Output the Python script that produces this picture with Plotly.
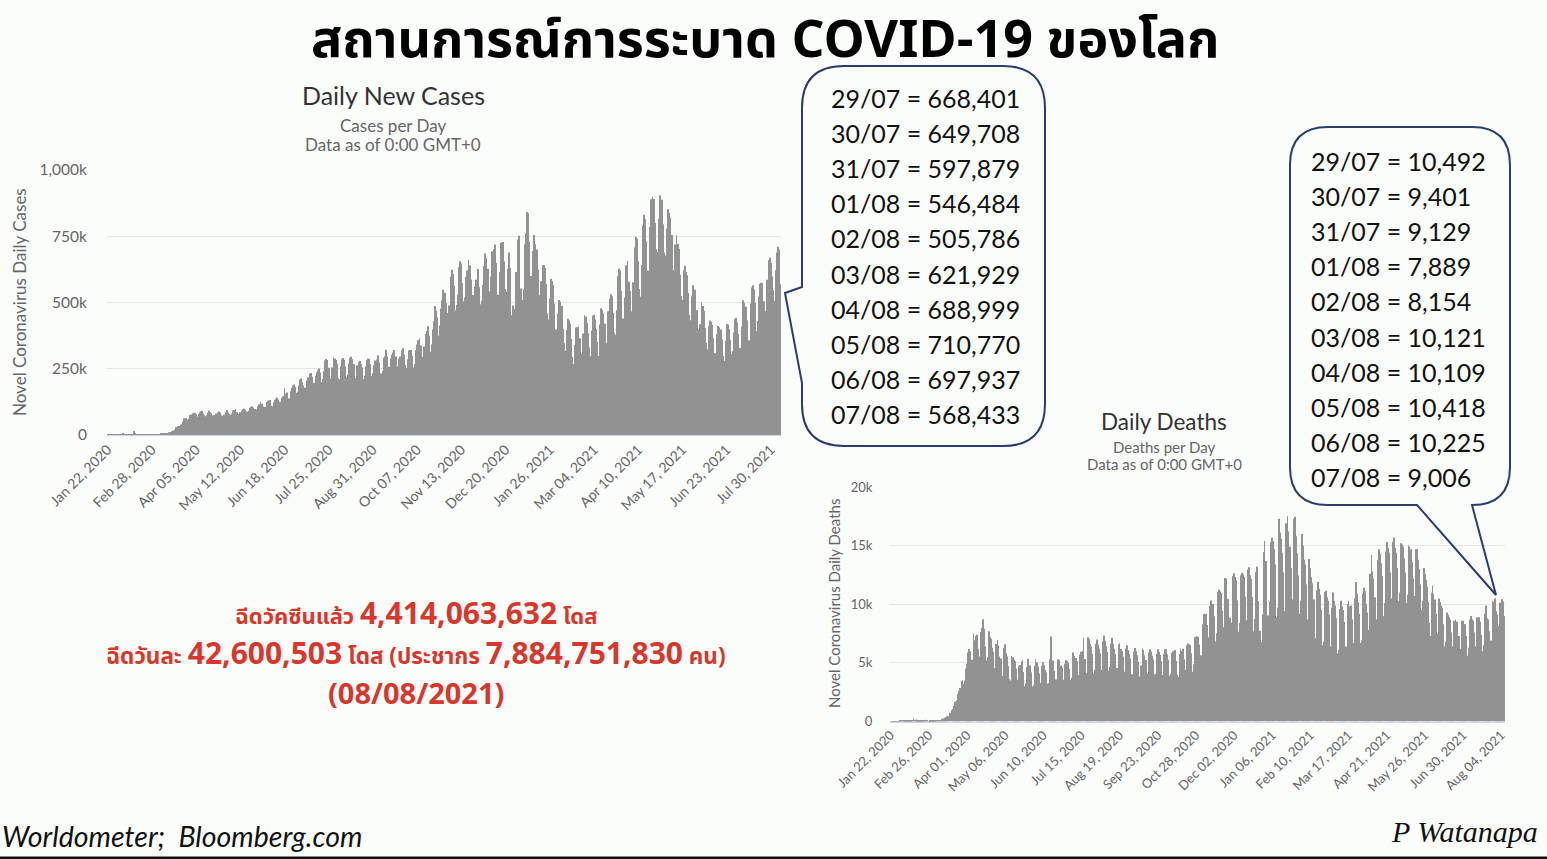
import pandas as pd
import plotly.graph_objects as go

W, H = 1547, 859

START_DATE = "2020-01-22"

# Daily new cases (thousands), one row per week starting Wednesday Jan 22, 2020
cases_k = [
    0.6, 0.3, 0.3, 0.7, 0.8, 1.5, 1.8,
    2.1, 2.6, 2.0, 2.1, 2.6, 3.2, 3.9,
    3.7, 3.2, 3.4, 2.7, 3.0, 2.6, 2.0,
    2.0, 15.1, 6.4, 2.1, 2.6, 2.1, 1.9,
    0.6, 0.9, 1.0, 0.6, 0.9, 0.5, 0.8,
    0.9, 1.1, 1.2, 1.8, 1.6, 2.0, 2.0,
    2.3, 2.5, 2.8, 3.9, 3.8, 4.0, 4.7,
    6.8, 7.5, 10.6, 10.9, 11.0, 14.0, 16.9,
    19.6, 28.8, 31.6, 32.5, 33.8, 39.5, 40.9,
    50.3, 62.0, 63.2, 65.0, 58.9, 61.7, 75.1,
    77.3, 81.6, 83.5, 82.0, 78.7, 70.1, 78.9,
    85.4, 89.2, 91.1, 81.4, 74.7, 70.7, 74.5,
    84.9, 91.8, 85.6, 81.8, 74.5, 72.0, 75.5,
    81.2, 84.6, 88.9, 85.3, 73.5, 72.9, 76.2,
    77.5, 86.0, 94.8, 83.6, 79.7, 76.5, 80.8,
    92.4, 93.1, 97.7, 86.2, 78.4, 77.3, 85.4,
    91.3, 98.2, 99.2, 95.0, 88.8, 87.4, 91.4,
    102.6, 105.9, 108.5, 103.1, 98.5, 91.8, 96.3,
    108.9, 116.0, 125.8, 118.0, 107.7, 103.3, 105.8,
    124.3, 129.4, 129.7, 132.5, 110.8, 108.4, 123.9,
    131.6, 136.5, 141.9, 133.8, 125.4, 118.6, 140.2,
    146.1, 176.8, 155.3, 160.5, 130.5, 139.0, 165.0,
    177.7, 186.2, 190.7, 182.1, 159.1, 163.8, 187.2,
    209.6, 212.8, 199.1, 187.2, 178.5, 168.4, 205.8,
    217.3, 232.4, 233.6, 219.9, 190.8, 196.1, 223.4,
    236.2, 244.6, 250.6, 236.3, 198.7, 210.9, 240.4,
    281.2, 286.4, 283.1, 253.9, 209.4, 213.6, 254.3,
    292.8, 289.0, 282.7, 269.1, 213.8, 210.6, 259.1,
    285.6, 290.6, 283.3, 259.4, 218.0, 227.5, 269.7,
    291.2, 294.9, 285.5, 267.6, 212.3, 214.0, 263.1,
    275.5, 279.4, 268.3, 254.6, 210.2, 224.0, 259.3,
    283.1, 288.9, 286.8, 266.7, 222.5, 234.0, 264.5,
    280.7, 285.3, 300.5, 274.0, 223.6, 232.2, 240.9,
    291.4, 296.8, 321.5, 295.0, 257.3, 257.5, 288.6,
    302.6, 311.4, 320.4, 296.3, 245.8, 258.9, 287.3,
    296.6, 318.6, 327.5, 303.1, 264.1, 253.1, 286.0,
    318.7, 320.4, 321.2, 299.1, 255.1, 268.1, 320.0,
    341.2, 357.7, 365.5, 337.5, 295.3, 293.2, 333.7,
    381.1, 392.8, 410.4, 374.9, 313.9, 341.4, 398.5,
    429.1, 486.5, 468.6, 444.2, 375.8, 413.0, 477.3,
    508.5, 547.9, 536.8, 497.9, 460.7, 454.2, 488.7,
    597.4, 623.3, 607.6, 561.9, 469.7, 491.7, 530.2,
    632.9, 655.2, 647.0, 572.8, 503.8, 518.6, 596.5,
    621.5, 660.4, 639.3, 587.2, 498.5, 528.0, 560.7,
    585.4, 554.5, 626.0, 557.8, 493.6, 506.7, 565.7,
    637.5, 684.8, 667.2, 627.3, 541.4, 518.2, 597.8,
    693.3, 702.2, 719.2, 649.0, 529.6, 528.0, 615.3,
    725.4, 701.4, 728.2, 655.0, 550.9, 541.4, 627.5,
    688.4, 630.2, 451.8, 488.5, 433.1, 475.0, 615.0,
    737.8, 752.0, 525.0, 553.2, 509.9, 550.0, 718.6,
    760.5, 841.2, 836.5, 729.3, 600.3, 575.4, 693.0,
    754.7, 720.2, 700.3, 623.5, 527.2, 510.0, 579.9,
    640.2, 641.5, 630.0, 569.4, 459.5, 435.5, 513.8,
    589.8, 580.7, 566.1, 496.6, 398.2, 394.4, 457.8,
    509.5, 503.1, 487.2, 401.3, 346.3, 316.7, 396.0,
    438.5, 431.9, 419.4, 361.9, 294.3, 267.2, 340.0,
    405.5, 406.6, 409.9, 365.1, 307.4, 289.5, 382.6,
    451.8, 447.2, 423.0, 384.3, 330.6, 297.1, 393.7,
    449.9, 453.5, 436.3, 399.5, 351.5, 298.5, 417.2,
    478.1, 471.4, 458.1, 419.5, 346.2, 328.9, 467.1,
    513.8, 530.8, 523.6, 460.2, 386.7, 378.3, 470.8,
    599.5, 627.4, 620.6, 544.6, 439.7, 420.0, 518.6,
    640.7, 656.4, 578.4, 543.2, 460.4, 465.6, 576.5,
    708.0, 746.8, 740.8, 655.2, 550.5, 522.7, 641.4,
    790.2, 831.1, 813.7, 730.3, 619.6, 609.4, 784.9,
    889.3, 898.6, 890.4, 800.3, 700.0, 690.3, 816.3,
    904.0, 857.5, 887.4, 795.2, 688.3, 677.2, 778.2,
    852.2, 837.3, 819.8, 755.0, 621.5, 617.0, 718.6,
    752.5, 720.3, 702.7, 605.0, 524.1, 510.0, 621.5,
    639.1, 614.2, 603.3, 535.5, 452.8, 432.9, 523.4,
    564.7, 550.2, 546.7, 470.3, 398.6, 361.5, 418.3,
    498.6, 486.4, 467.8, 404.3, 347.3, 322.4, 410.6,
    432.0, 427.5, 416.2, 365.1, 308.9, 299.7, 380.2,
    411.1, 406.9, 398.1, 360.4, 297.8, 280.0, 355.3,
    418.9, 416.6, 399.5, 359.3, 305.0, 315.7, 387.2,
    437.5, 442.8, 424.3, 381.4, 328.6, 322.4, 409.5,
    508.3, 499.5, 483.8, 432.4, 352.5, 357.2, 495.9,
    556.4, 565.0, 549.7, 498.2, 391.7, 430.0, 522.5,
    570.3, 574.6, 573.7, 504.4, 440.7, 467.3, 585.5,
    660.0, 668.4, 649.7, 597.9, 546.5, 505.8, 621.9,
    689.0, 710.8, 697.9, 568.4,
]

# Daily deaths, one row per week starting Wednesday Jan 22, 2020
deaths = [
    17, 8, 16, 15, 24, 26, 26,
    38, 43, 46, 45, 57, 64, 66,
    73, 73, 86, 89, 97, 108, 97,
    254, 121, 143, 142, 106, 98, 136,
    115, 118, 109, 97, 150, 71, 52,
    29, 44, 37, 58, 67, 72, 84,
    84, 98, 104, 102, 97, 231, 197,
    271, 330, 353, 447, 458, 744, 722,
    967, 1074, 1331, 1659, 1705, 1823, 2358,
    2595, 2865, 3441, 3522, 3216, 3494, 4510,
    4922, 5877, 6173, 5984, 4740, 5266, 7508,
    6935, 7321, 7398, 6206, 5536, 5488, 7639,
    8000, 8722, 7904, 6394, 5201, 5458, 7705,
    7185, 7044, 6290, 5948, 3979, 4537, 6618,
    6952, 6491, 5553, 5366, 3722, 3873, 6273,
    6578, 5819, 5543, 4743, 3606, 3493, 5592,
    5474, 5274, 5164, 4490, 3560, 3451, 4719,
    4824, 5117, 5232, 4232, 3017, 3234, 4649,
    5349, 4719, 4779, 4206, 2986, 3100, 4745,
    5290, 5029, 4692, 4093, 3072, 3289, 4735,
    5056, 4800, 4402, 4179, 3231, 3287, 5314,
    7250, 5147, 5200, 4311, 3350, 3584, 5286,
    5313, 5227, 4760, 4613, 3322, 3571, 4925,
    5227, 5190, 5003, 4479, 3542, 3736, 5882,
    5599, 5344, 5412, 5146, 3786, 3967, 5695,
    5939, 6005, 7152, 5326, 4076, 4159, 7190,
    7034, 6612, 6381, 5752, 4085, 4402, 6630,
    6999, 6556, 6220, 5831, 4193, 4417, 6843,
    7325, 6877, 6412, 5936, 4322, 4677, 6660,
    7151, 6616, 6215, 5731, 4304, 4567, 6565,
    6675, 6182, 6014, 5521, 4136, 4243, 6226,
    6493, 6093, 5759, 5360, 4052, 4017, 5977,
    6258, 5996, 5659, 5072, 3817, 3813, 4778,
    6218, 6108, 5641, 5244, 3980, 4089, 5887,
    6170, 5965, 5612, 5284, 4016, 4063, 5766,
    6155, 5940, 5674, 5131, 3956, 3942, 5732,
    6162, 6165, 5729, 5257, 3901, 4046, 5864,
    5986, 5855, 6095, 5151, 3958, 3787, 5749,
    6216, 6019, 6195, 5309, 4069, 4389, 6512,
    6660, 6569, 6513, 5815, 4233, 4888, 7206,
    7219, 7245, 7234, 6561, 5174, 5642, 8290,
    9143, 9215, 9166, 8222, 6238, 7158, 9849,
    10312, 9930, 10019, 8972, 6829, 7519, 11048,
    11244, 11106, 10955, 9474, 7282, 8042, 12231,
    12176, 10466, 10429, 8842, 7190, 8432, 12412,
    12650, 12314, 12048, 10350, 7660, 8398, 12470,
    12664, 12553, 12316, 10649, 7731, 8645, 12969,
    13166, 12470, 12183, 10649, 7683, 8742, 12749,
    13223, 10280, 6612, 7731, 6765, 9136, 14458,
    15414, 13690, 8835, 9036, 7567, 10212, 15290,
    15670, 15400, 14700, 13400, 8900, 9700, 17300,
    16130, 15600, 14400, 12700, 9400, 8900, 16900,
    17500, 16200, 14900, 13100, 9400, 10400, 17300,
    17460, 15800, 14350, 12450, 9200, 10300, 16000,
    15000, 13800, 13400, 11700, 7900, 8700, 13850,
    13100, 12300, 11800, 10400, 7000, 7100, 11200,
    11900, 11300, 10800, 9500, 6500, 6800, 11050,
    11150, 10600, 10300, 9100, 6300, 6400, 9700,
    11000, 10300, 9900, 8800, 5800, 6100, 9600,
    10300, 9800, 9500, 8500, 6300, 6400, 10000,
    10300, 9800, 9900, 8700, 6200, 6700, 10500,
    11900, 10900, 10200, 9200, 6700, 6900, 10900,
    11400, 11100, 10000, 9300, 6800, 7800, 12600,
    14200, 12800, 12200, 10600, 7900, 8700, 13800,
    14700, 14300, 13500, 12400, 9000, 10100, 14500,
    15300, 14800, 14400, 12700, 9800, 10500, 15300,
    15700, 14800, 14400, 13100, 10300, 11000, 15200,
    15100, 14900, 13900, 12700, 10100, 10800, 15000,
    14900, 14700, 13600, 12200, 9800, 10700, 14700,
    14700, 13800, 13000, 11700, 9500, 10300, 13100,
    12600, 12100, 11500, 10200, 8400, 7300, 11000,
    11600, 10900, 10400, 9200, 6900, 7500, 10500,
    10200, 9900, 9700, 8300, 6400, 6800, 9300,
    9100, 8900, 8700, 7600, 6000, 6400, 8600,
    8700, 8500, 8500, 7300, 6000, 6200, 8600,
    8600, 8300, 8300, 7300, 5600, 6300, 8700,
    9000, 8700, 8600, 7600, 6300, 6400, 8900,
    8700, 8900, 8500, 7400, 6000, 6500, 9200,
    9900, 8800, 8700, 7700, 6300, 6900, 10300,
    10200, 10492, 9401, 9129, 7889, 8154, 10121,
    10109, 10418, 10225, 9006,
]

cases_tick_labels = ["Jan 22, 2020", "Feb 28, 2020", "Apr 05, 2020", "May 12, 2020",
                     "Jun 18, 2020", "Jul 25, 2020", "Aug 31, 2020", "Oct 07, 2020",
                     "Nov 13, 2020", "Dec 20, 2020", "Jan 26, 2021", "Mar 04, 2021",
                     "Apr 10, 2021", "May 17, 2021", "Jun 23, 2021", "Jul 30, 2021"]
deaths_tick_labels = ["Jan 22, 2020", "Feb 26, 2020", "Apr 01, 2020", "May 06, 2020",
                      "Jun 10, 2020", "Jul 15, 2020", "Aug 19, 2020", "Sep 23, 2020",
                      "Oct 28, 2020", "Dec 02, 2020", "Jan 06, 2021", "Feb 10, 2021",
                      "Mar 17, 2021", "Apr 21, 2021", "May 26, 2021", "Jun 30, 2021",
                      "Aug 04, 2021"]

cases_y_ticks = [0, 250, 500, 750, 1000]
cases_y_labels = ["0", "250k", "500k", "750k", "1,000k"]
deaths_y_ticks = [0, 5000, 10000, 15000, 20000]
deaths_y_labels = ["0", "5k", "10k", "15k", "20k"]

callout_dates = ["29/07", "30/07", "31/07", "01/08", "02/08",
                 "03/08", "04/08", "05/08", "06/08", "07/08"]
cases_callout = [668401, 649708, 597879, 546484, 505786,
                 621929, 688999, 710770, 697937, 568433]
deaths_callout = [10492, 9401, 9129, 7889, 8154,
                  10121, 10109, 10418, 10225, 9006]

TITLE = "สถานการณ์การระบาด COVID-19 ของโลก"
VACC_TOTAL = "4,414,063,632"
VACC_DAILY = "42,600,503"
POPULATION = "7,884,751,830"
AS_OF = "08/08/2021"

# ---------------------------------------------------------------
def X(px):
    return px / W


def Y(py):
    return 1 - py / H


BAR = "#929292"
GRID = "#e6e6e6"
AXIS_TXT = "#666666"
FONT = "Lato"
THAI = "Noto Sans Thai, Noto Sans Thai Looped, Loma, Garuda, Tlwg Typo, Noto Sans, sans-serif"

dates_c = pd.date_range(START_DATE, periods=len(cases_k), freq="D")
dates_d = pd.date_range(START_DATE, periods=len(deaths), freq="D")
half = pd.Timedelta(hours=12)

fig = go.Figure()
fig.add_trace(go.Bar(x=dates_c, y=cases_k, xaxis="x", yaxis="y",
                     marker=dict(color=BAR, line=dict(width=0)), showlegend=False))
fig.add_trace(go.Bar(x=dates_d, y=deaths, xaxis="x2", yaxis="y2",
                     marker=dict(color=BAR, line=dict(width=0)), showlegend=False))

common_x = dict(type="date", tickangle=-45, showgrid=False, showline=True,
                linecolor="#ccd6eb", linewidth=1, ticks="", zeroline=False,
                fixedrange=True, automargin=False)
fig.update_layout(
    width=W, height=H,
    margin=dict(l=0, r=0, t=0, b=0, pad=0, autoexpand=False),
    paper_bgcolor="#fbfdfb", plot_bgcolor="#fbfdfb",
    bargap=0.3,
    font=dict(family=FONT, color=AXIS_TXT),
    xaxis=dict(domain=[X(107), X(781)], anchor="y",
               range=[dates_c[0] - half, dates_c[-1] + half],
               tickvals=pd.to_datetime(cases_tick_labels, format="%b %d, %Y"),
               ticktext=cases_tick_labels,
               tickfont=dict(size=14, color=AXIS_TXT, family=FONT), **common_x),
    yaxis=dict(domain=[Y(435), Y(170)], anchor="x", range=[0, 1000],
               tickvals=cases_y_ticks, ticktext=cases_y_labels,
               tickfont=dict(size=15.5, color=AXIS_TXT, family=FONT),
               gridcolor=GRID, gridwidth=1, zeroline=False, showline=False,
               ticks="outside", ticklen=16, tickcolor="rgba(0,0,0,0)",
               automargin=False),
    xaxis2=dict(domain=[X(890), X(1505)], anchor="y2",
                range=[dates_d[0] - half, dates_d[-1] + half],
                tickvals=pd.to_datetime(deaths_tick_labels, format="%b %d, %Y"),
                ticktext=deaths_tick_labels,
                tickfont=dict(size=13, color=AXIS_TXT, family=FONT), **common_x),
    yaxis2=dict(domain=[Y(721.5), Y(487)], anchor="x2", range=[0, 20000],
                tickvals=deaths_y_ticks, ticktext=deaths_y_labels,
                tickfont=dict(size=13, color=AXIS_TXT, family=FONT),
                gridcolor=GRID, gridwidth=1, zeroline=False, showline=False,
                ticks="outside", ticklen=14, tickcolor="rgba(0,0,0,0)",
                automargin=False),
)


def ann(text, x, y, size, color="#333333", family=FONT, xanchor="center",
        angle=0, yanchor="middle"):
    fig.add_annotation(text=text, x=X(x), y=Y(y), xref="paper", yref="paper",
                       showarrow=False, xanchor=xanchor, yanchor=yanchor,
                       textangle=angle,
                       font=dict(size=size, color=color, family=family))


# Main slide title (anchored at the top edge so nothing is clipped)
ann("<b>" + TITLE + "</b>", 765, 0, 52, "#000000", THAI, yanchor="top")

# Chart titles
ann("Daily New Cases", 393, 95, 25, "#333333")
ann("Cases per Day", 393, 125, 17, AXIS_TXT)
ann("Data as of 0:00 GMT+0", 393, 144, 17, AXIS_TXT)
ann("Novel Coronavirus Daily Cases", 19, 302, 17, AXIS_TXT, angle=-90)

ann("Daily Deaths", 1164, 421, 22.5, "#333333")
ann("Deaths per Day", 1164, 447, 15, AXIS_TXT)
ann("Data as of 0:00 GMT+0", 1164, 464, 15, AXIS_TXT)
ann("Novel Coronavirus Daily Deaths", 834, 604, 15, AXIS_TXT, angle=-90)


# Callout boxes
def P(x, y):
    return f"{X(x):.5f},{Y(y):.5f}"


def box_path(L, T, R, B, r, tail):
    s = f"M {P(L + r, T)} L {P(R - r, T)} Q {P(R, T)} {P(R, T + r)} "
    s += f"L {P(R, B - r)} Q {P(R, B)} {P(R - r, B)} "
    if tail[0] == "bottom":
        _, xr, tip, xl = tail
        s += f"L {P(xr, B)} L {P(*tip)} L {P(xl, B)} "
    s += f"L {P(L + r, B)} Q {P(L, B)} {P(L, B - r)} "
    if tail[0] == "left":
        _, yb, tip, yt = tail
        s += f"L {P(L, yb)} L {P(*tip)} L {P(L, yt)} "
    s += f"L {P(L, T + r)} Q {P(L, T)} {P(L + r, T)} Z"
    return s


BOX_LINE = "#2e3c6a"
fig.add_shape(type="path", xref="paper", yref="paper",
              path=box_path(802, 66, 1045, 446, 42, ("left", 383, (785, 293), 287)),
              line=dict(color=BOX_LINE, width=2), fillcolor="rgba(0,0,0,0)")
fig.add_shape(type="path", xref="paper", yref="paper",
              path=box_path(1290, 127, 1510, 505, 38, ("bottom", 1472, (1496, 595), 1417)),
              line=dict(color=BOX_LINE, width=2), fillcolor="rgba(0,0,0,0)")

for i, (d, v) in enumerate(zip(callout_dates, cases_callout)):
    ann(f"{d} = {v:,}", 829, 98 + 35.1 * i, 25, "#111111", xanchor="left")
for i, (d, v) in enumerate(zip(callout_dates, deaths_callout)):
    ann(f"{d} = {v:,}", 1309, 161 + 35.1 * i, 25, "#111111", xanchor="left")

# Red vaccination text
RED = "#d8372d"
big = "<span style='font-size:30px'>{}</span>"
ann("<b>ฉีดวัคซีนแล้ว " + big.format(VACC_TOTAL) + " โดส</b>", 416, 615, 22, RED, THAI)
ann("<b>ฉีดวันละ " + big.format(VACC_DAILY) + " โดส (ประชากร "
    + big.format(POPULATION) + " คน)</b>", 416, 655, 22.5, RED, THAI)
ann("<b>(" + AS_OF + ")</b>", 416, 695, 29, RED, THAI)

# Footer
ann("<i>Worldometer;  Bloomberg.com</i>", 0, 836, 28.5, "#111111", xanchor="left")
ann("<i>P Watanapa</i>", 1540, 831, 30, "#111111", "Liberation Serif", xanchor="right")

fig.add_shape(type="rect", xref="paper", yref="paper", x0=0, x1=1, y0=0, y1=Y(856.5),
              fillcolor="#111111", line=dict(width=0))

fig.write_html("out.html", config={"displayModeBar": False})
